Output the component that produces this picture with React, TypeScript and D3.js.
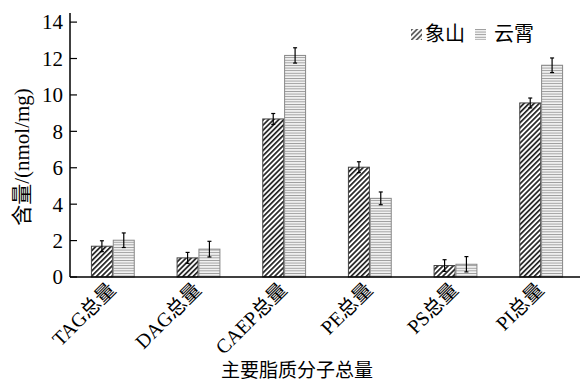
import React, { useEffect, useRef } from 'react';
import * as d3 from 'd3';

const categories = ['TAG总量', 'DAG总量', 'CAEP总量', 'PE总量', 'PS总量', 'PI总量'];
const seriesNames = ['象山', '云霄'];
const xiangshan = [1.69, 1.05, 8.68, 6.03, 0.63, 9.56];
const xiangshanErr = [0.3, 0.3, 0.3, 0.3, 0.32, 0.27];
const yunxiao = [2.02, 1.53, 12.17, 4.32, 0.7, 11.63];
const yunxiaoErr = [0.4, 0.43, 0.42, 0.35, 0.42, 0.4];
const yTicks = [0, 2, 4, 6, 8, 10, 12, 14];

const FONT = '"Liberation Serif", "Times New Roman", "Noto Sans CJK SC", serif';

const App = () => {
  const svgRef = useRef(null);

  useEffect(() => {
    document.body.style.margin = '0';
    const svg = d3.select(svgRef.current);
    svg.selectAll('*').remove();

    const left = 70;
    const bottom = 277;

    const x = d3.scaleBand()
      .domain(categories)
      .range([left, 584])
      .paddingInner(0.5)
      .paddingOuter(0.25);

    const xs = d3.scaleBand()
      .domain(seriesNames)
      .range([0, x.bandwidth()])
      .paddingInner(0.04);

    const y = d3.scaleLinear().domain([0, 14.5]).range([bottom, 13]);

    // patterns
    const defs = svg.append('defs');
    const diag = defs.append('pattern')
      .attr('id', 'diag')
      .attr('patternUnits', 'userSpaceOnUse')
      .attr('width', 3.6)
      .attr('height', 3.6)
      .attr('patternTransform', 'rotate(45)');
    diag.append('rect').attr('width', 3.6).attr('height', 3.6).attr('fill', '#fff');
    diag.append('rect').attr('width', 1.7).attr('height', 3.6).attr('fill', '#222');

    const horiz = defs.append('pattern')
      .attr('id', 'horiz')
      .attr('patternUnits', 'userSpaceOnUse')
      .attr('width', 4)
      .attr('height', 2.6);
    horiz.append('rect').attr('width', 4).attr('height', 2.6).attr('fill', '#f2f2f2');
    horiz.append('rect').attr('width', 4).attr('height', 0.9).attr('fill', '#9a9a9a');

    const data = [
      { name: seriesNames[0], values: xiangshan, errs: xiangshanErr, fill: 'url(#diag)', stroke: '#444' },
      { name: seriesNames[1], values: yunxiao, errs: yunxiaoErr, fill: 'url(#horiz)', stroke: '#888' },
    ];

    // bars
    data.forEach(s => {
      const g = svg.append('g');
      categories.forEach((c, i) => {
        const bx = x(c) + xs(s.name);
        g.append('rect')
          .attr('x', bx)
          .attr('y', y(s.values[i]))
          .attr('width', xs.bandwidth())
          .attr('height', bottom - y(s.values[i]))
          .attr('fill', s.fill)
          .attr('stroke', s.stroke)
          .attr('stroke-width', 1);
        // error bar
        const cx = bx + xs.bandwidth() / 2;
        const y1 = y(s.values[i] + s.errs[i]);
        const y2 = y(s.values[i] - s.errs[i]);
        g.append('line').attr('x1', cx).attr('x2', cx).attr('y1', y1).attr('y2', y2)
          .attr('stroke', '#000').attr('stroke-width', 1.2);
        [y1, y2].forEach(yy => {
          g.append('line').attr('x1', cx - 2).attr('x2', cx + 2).attr('y1', yy).attr('y2', yy)
            .attr('stroke', '#000').attr('stroke-width', 1.2);
        });
      });
    });

    // y axis
    const yAxis = svg.append('g').attr('transform', `translate(${left},0)`);
    yAxis.append('line').attr('x1', 0).attr('x2', 0).attr('y1', y(14.5)).attr('y2', bottom)
      .attr('stroke', '#000').attr('stroke-width', 1.5);
    yTicks.forEach(t => {
      yAxis.append('line').attr('x1', 0).attr('x2', 7).attr('y1', y(t)).attr('y2', y(t))
        .attr('stroke', '#000').attr('stroke-width', 1.2);
      yAxis.append('text')
        .attr('x', -7)
        .attr('y', y(t))
        .attr('dy', '0.35em')
        .attr('text-anchor', 'end')
        .style('font-family', FONT)
        .style('font-size', '21px')
        .text(t);
    });

    // x axis line
    svg.append('line').attr('x1', left).attr('x2', 580).attr('y1', bottom).attr('y2', bottom)
      .attr('stroke', '#000').attr('stroke-width', 1.5);

    // x labels
    categories.forEach(c => {
      const cx = x(c) + x.bandwidth() / 2;
      svg.append('text')
        .attr('transform', `translate(${cx + 4},${bottom + 14}) rotate(-45)`)
        .attr('text-anchor', 'end')
        .style('font-family', FONT)
        .style('font-size', '20px')
        .text(c);
    });

    // axis titles
    svg.append('text')
      .attr('transform', `translate(29,157) rotate(-90)`)
      .attr('text-anchor', 'middle')
      .style('font-family', FONT)
      .style('font-size', '21px')
      .text('含量/(nmol/mg)');

    svg.append('text')
      .attr('x', 297)
      .attr('y', 377)
      .attr('text-anchor', 'middle')
      .style('font-family', FONT)
      .style('font-size', '19px')
      .text('主要脂质分子总量');

    // legend
    const legendX = [411, 475];
    data.forEach((s, i) => {
      const lg = svg.append('g').attr('transform', `translate(${legendX[i]},29)`);
      lg.append('rect').attr('width', 11).attr('height', 11)
        .attr('fill', i === 0 ? 'url(#diag)' : 'url(#horiz)')
        .attr('opacity', i === 0 ? 0.75 : 1);
      lg.append('text')
        .attr('x', i === 0 ? 14 : 19)
        .attr('y', 12)
        .style('font-family', FONT)
        .style('font-size', '20px')
        .text(s.name);
    });
  }, []);

  return <svg ref={svgRef} width={580} height={383} style={{ display: 'block', background: '#fff' }}></svg>;
};

export default App;
